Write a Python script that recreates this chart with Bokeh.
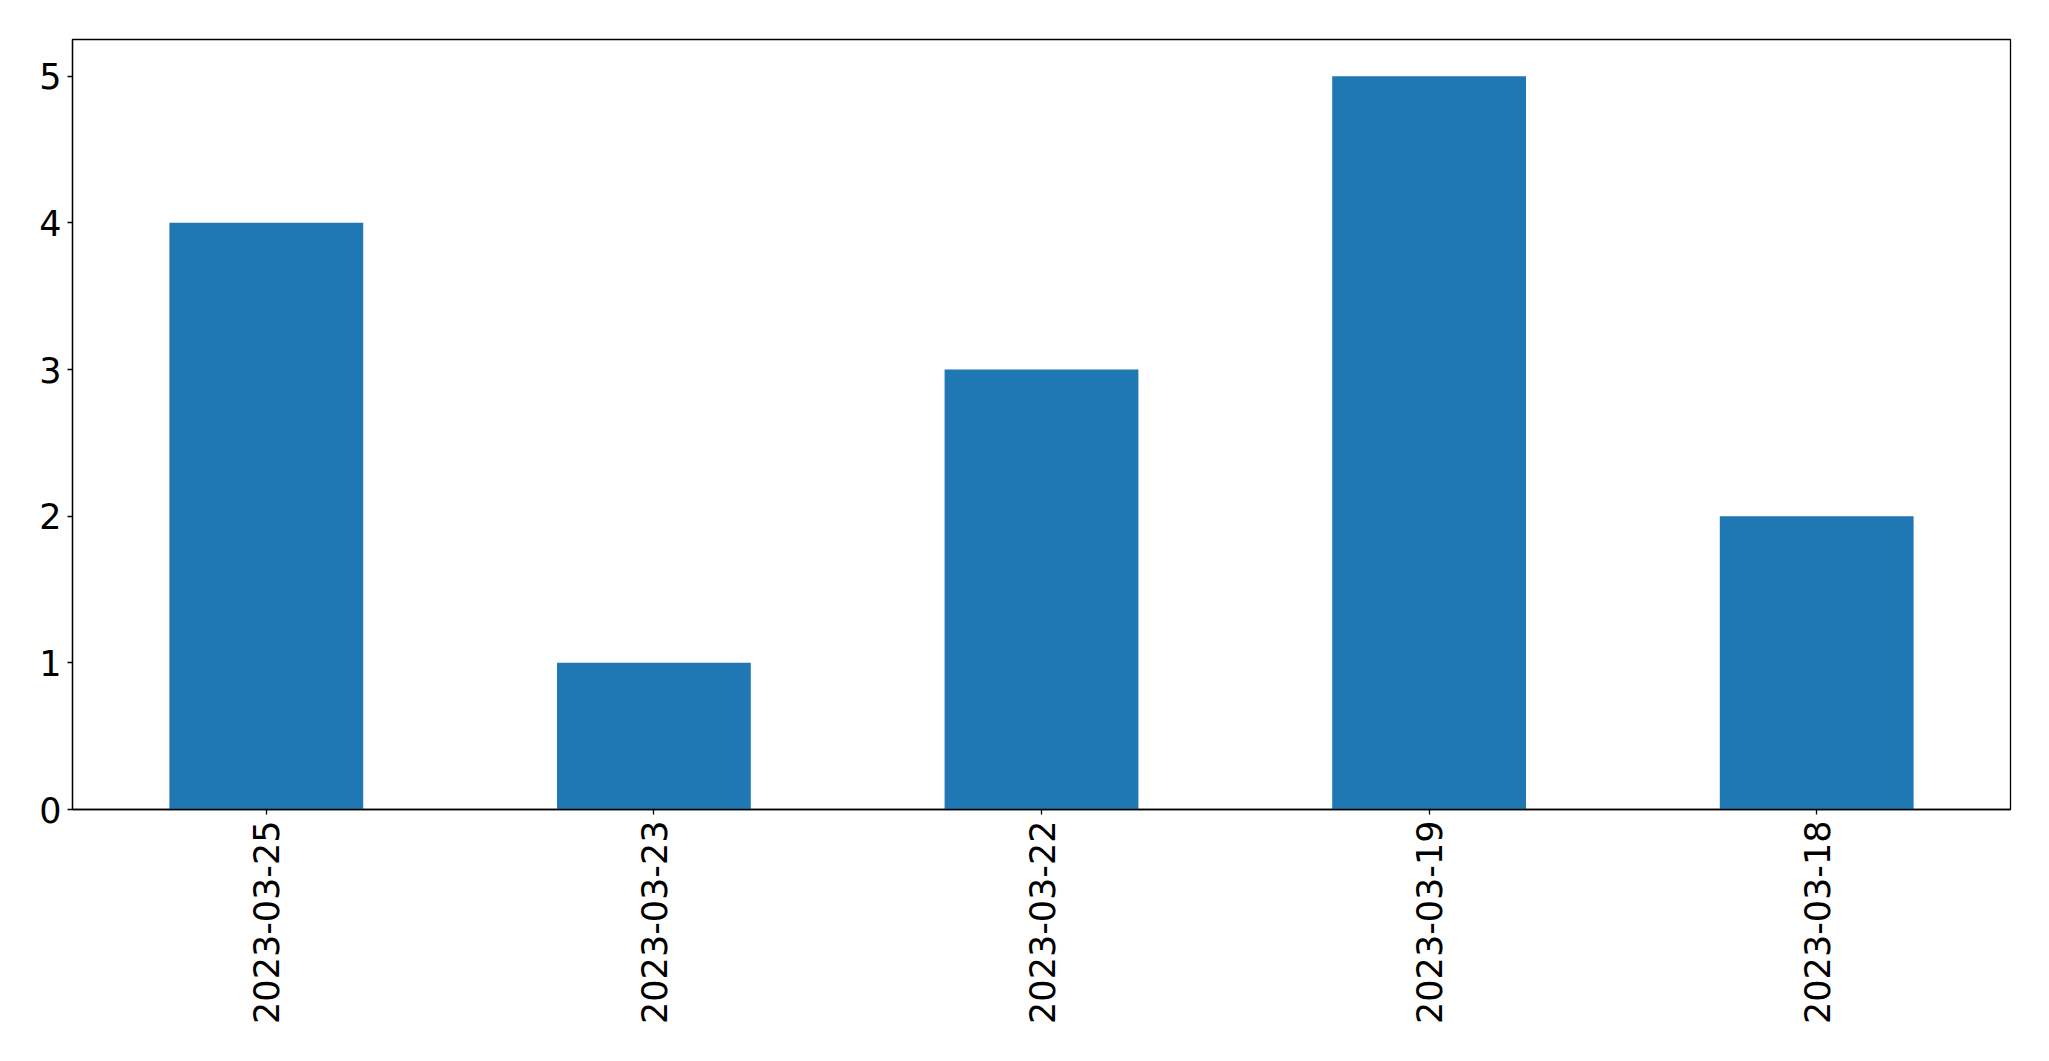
import math
from bokeh.plotting import figure
from bokeh.models import Range1d, FixedTicker
from bokeh.embed import file_html
from bokeh.resources import INLINE

dates = ["2023-03-25", "2023-03-23", "2023-03-22", "2023-03-19", "2023-03-18"]
counts = [4, 1, 3, 5, 2]
y_ticks = [0, 1, 2, 3, 4, 5]

p = figure(
    x_range=dates,
    y_range=Range1d(0, 5.25),
    frame_width=1938,
    frame_height=770,
    min_border_left=72,
    min_border_right=31,
    min_border_top=39,
    min_border_bottom=230,
    output_backend="svg",
    toolbar_location=None,
)

p.vbar(x=dates, top=counts, width=0.5, color="#1f77b4", line_color=None)

p.xgrid.visible = False
p.ygrid.visible = False
p.outline_line_color = "black"
p.outline_line_width = 1.3
p.outline_line_alpha = 1

for ax in (p.xaxis[0], p.yaxis[0]):
    ax.axis_line_color = "black"
    ax.axis_line_width = 1.3
    ax.major_tick_line_color = "black"
    ax.major_tick_line_width = 1.3
    ax.major_tick_out = 5
    ax.major_tick_in = 0
    ax.minor_tick_line_color = None
    ax.major_label_text_font = "DejaVu Sans"
    ax.major_label_text_font_size = "35px"
    ax.major_label_text_color = "black"
    ax.major_label_standoff = 6

p.yaxis[0].ticker = FixedTicker(ticks=y_ticks)
p.xaxis[0].major_label_orientation = math.pi / 2

open("out.html", "w").write(file_html(p, INLINE))
